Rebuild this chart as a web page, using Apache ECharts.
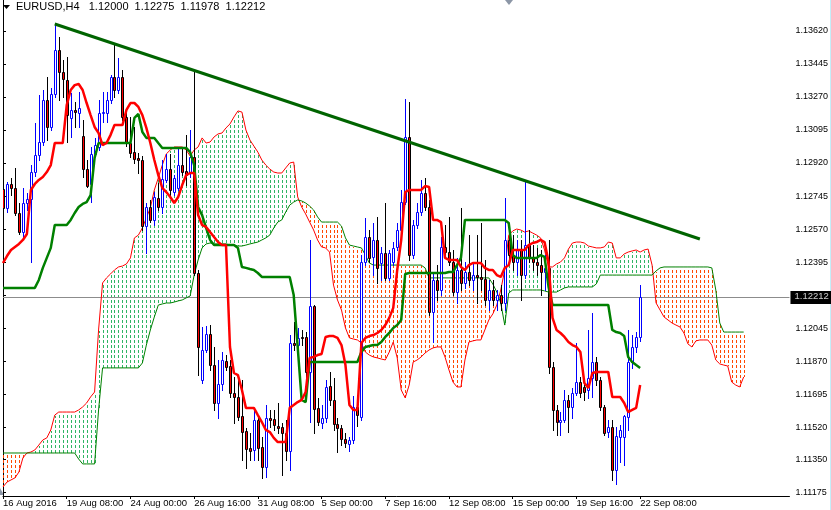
<!DOCTYPE html>
<html><head><meta charset="utf-8">
<script src="https://cdn.jsdelivr.net/npm/echarts@6/dist/echarts.min.js"></script>
<style>html,body{margin:0;padding:0;background:#fff;overflow:hidden}#c{width:831px;height:510px}</style>
</head><body><div id="c"></div>
<script>
// ---- tick labels ----
const tickBars = [0,16,32,48,64,80,96,112,128,144,160];
const tickLabels = ['16 Aug 2016','19 Aug 08:00','24 Aug 00:00','26 Aug 16:00','31 Aug 08:00','5 Sep 00:00','7 Sep 16:00','12 Sep 08:00','15 Sep 00:00','19 Sep 16:00','22 Sep 08:00'];
const priceTicks = [1.13620,1.13445,1.13270,1.13095,1.12920,1.12745,1.12570,1.12395,1.12220,1.12045,1.11870,1.11695,1.11520,1.11350,1.11175];
const priceLabels = [1.13620,1.13445,1.13270,1.13095,1.12920,1.12745,1.12570,1.12395,1.12045,1.11870,1.11695,1.11520,1.11350,1.11175];
const headerSymbol = 'EURUSD,H4';
const headerValues = ['1.12000','1.12275','1.11978','1.12212'];
const lastPrice = 1.12212;
const trendFrom = [13, 1.13657];
const trendTo = [175, 1.12517];

// ---- H4 candles ----
const open = [1.12782,1.12682,1.12809,1.12788,1.12655,1.12554,1.12708,1.12729,1.12872,1.12962,
1.13031,1.13254,1.13111,1.13286,1.13519,1.13402,1.13360,1.13159,1.13201,1.13185,
1.13063,1.12888,1.12809,1.12968,1.13005,1.13185,1.13185,1.13254,1.13376,1.13307,
1.13376,1.13164,1.13026,1.12978,1.12947,1.12936,1.12586,1.12687,1.12618,1.12735,
1.12687,1.12830,1.12888,1.12766,1.12788,1.12909,1.12878,1.12867,1.12952,1.12337,
1.11770,1.11929,1.12014,1.11849,1.11648,1.11749,1.11871,1.11844,1.11701,1.11680,
1.11579,1.11500,1.11410,1.11399,1.11558,1.11415,1.11309,1.11569,1.11563,1.11526,
1.11521,1.11489,1.11394,1.11966,1.11955,1.11998,1.11998,1.11812,1.12162,1.11622,
1.11542,1.11569,1.11738,1.11664,1.11537,1.11516,1.11457,1.11431,1.11452,1.11627,
1.11574,1.12395,1.12528,1.12422,1.12512,1.12390,1.12443,1.12311,1.12395,1.12475,
1.12565,1.12713,1.13058,1.12432,1.12591,1.12660,1.12761,1.12687,1.12130,1.12300,
1.12247,1.12475,1.12448,1.12395,1.12236,1.12353,1.12284,1.12342,1.12300,1.12326,
1.12316,1.12305,1.12194,1.12247,1.12194,1.12220,1.12178,1.12512,1.12432,1.12395,
1.12459,1.12326,1.12485,1.12417,1.12395,1.12379,1.12342,1.12364,1.11839,1.11611,
1.11547,1.11558,1.11664,1.11627,1.11701,1.11759,1.11733,1.11717,1.11781,1.11865,
1.11770,1.11627,1.11494,1.11521,1.11293,1.11468,1.11468,1.11574,1.11865,1.11945,
1.12000];
const high = [1.12872,1.12819,1.12841,1.12894,1.12708,1.12788,1.12761,1.12909,1.13132,1.13280,
1.13307,1.13376,1.13318,1.13657,1.13588,1.13466,1.13482,1.13291,1.13243,1.13296,
1.13148,1.12936,1.13005,1.13053,1.13254,1.13296,1.13296,1.13386,1.13545,1.13477,
1.13413,1.13190,1.13164,1.13111,1.12973,1.12957,1.12708,1.12724,1.12766,1.12814,
1.12936,1.12968,1.12968,1.12856,1.12994,1.13000,1.13068,1.13095,1.13402,1.12353,
1.12051,1.12056,1.12061,1.11945,1.11876,1.11918,1.11902,1.11876,1.11786,1.11770,
1.11770,1.11516,1.11489,1.11606,1.11574,1.11468,1.11637,1.11611,1.11611,1.11648,
1.11542,1.11558,1.12008,1.12077,1.12046,1.12035,1.12024,1.12512,1.12167,1.11675,
1.11637,1.11770,1.11812,1.11781,1.11569,1.11531,1.11489,1.11468,1.11685,1.11632,
1.12432,1.12629,1.12565,1.12602,1.12634,1.12475,1.12708,1.12459,1.12501,1.12602,
1.12777,1.13259,1.13243,1.12618,1.12708,1.12830,1.12841,1.12724,1.12342,1.12379,
1.12528,1.12591,1.12634,1.12459,1.12417,1.12682,1.12395,1.12538,1.12395,1.12538,
1.12602,1.12406,1.12300,1.12300,1.12247,1.12273,1.12735,1.12576,1.12538,1.12512,
1.12512,1.12819,1.12565,1.12485,1.12470,1.12459,1.12432,1.12512,1.11865,1.11637,
1.11600,1.11717,1.11690,1.11728,1.11966,1.11786,1.11781,1.12035,1.12125,1.11892,
1.11786,1.11637,1.11558,1.11558,1.11521,1.11531,1.11584,1.12035,1.12008,1.12024,
1.12275];
const low = [1.12459,1.12660,1.12750,1.12644,1.12544,1.12528,1.12671,1.12395,1.12851,1.12936,
1.13015,1.13042,1.13095,1.13270,1.13254,1.13270,1.13031,1.13058,1.13111,1.13111,
1.12846,1.12793,1.12713,1.12957,1.12989,1.13137,1.13137,1.13238,1.13270,1.13291,
1.13148,1.13010,1.12952,1.12920,1.12867,1.12565,1.12443,1.12607,1.12591,1.12671,
1.12655,1.12819,1.12750,1.12750,1.12777,1.12856,1.12803,1.12846,1.12326,1.11796,
1.11754,1.11918,1.11823,1.11611,1.11569,1.11717,1.11823,1.11680,1.11542,1.11558,
1.11346,1.11304,1.11346,1.11346,1.11346,1.11251,1.11256,1.11521,1.11505,1.11489,
1.11266,1.11346,1.11293,1.11929,1.11918,1.11955,1.11743,1.11547,1.11489,1.11531,
1.11516,1.11547,1.11637,1.11505,1.11388,1.11425,1.11415,1.11394,1.11436,1.11526,
1.11558,1.12379,1.12395,1.12326,1.12284,1.12300,1.12300,1.12300,1.12379,1.12459,
1.12554,1.12703,1.12406,1.12417,1.12576,1.12644,1.12671,1.12114,1.11971,1.12194,
1.12220,1.12432,1.12379,1.12220,1.12178,1.12247,1.12258,1.12273,1.12247,1.12178,
1.12247,1.12167,1.12141,1.12167,1.12141,1.12141,1.12141,1.12395,1.12353,1.12326,
1.12194,1.12311,1.12395,1.12353,1.12326,1.12220,1.12247,1.11807,1.11505,1.11478,
1.11478,1.11547,1.11494,1.11569,1.11690,1.11680,1.11664,1.11675,1.11680,1.11743,
1.11611,1.11478,1.11468,1.11240,1.11219,1.11335,1.11319,1.11505,1.11834,1.11918,
1.11978];
const close = [1.12682,1.12809,1.12788,1.12655,1.12554,1.12708,1.12729,1.12872,1.12962,1.13031,
1.13254,1.13111,1.13286,1.13519,1.13402,1.13365,1.13174,1.13201,1.13190,1.13212,
1.12888,1.12798,1.12968,1.13015,1.13185,1.13190,1.13254,1.13376,1.13307,1.13376,
1.13164,1.13026,1.12973,1.12941,1.12936,1.12586,1.12687,1.12618,1.12740,1.12687,
1.12835,1.12888,1.12777,1.12841,1.12909,1.12872,1.12856,1.12952,1.12337,1.11945,
1.11929,1.12014,1.11849,1.11648,1.11749,1.11876,1.11839,1.11701,1.11680,1.11574,
1.11494,1.11404,1.11394,1.11558,1.11410,1.11309,1.11569,1.11558,1.11531,1.11516,
1.11489,1.11394,1.11966,1.11955,1.11993,1.11995,1.11812,1.12162,1.11616,1.11547,
1.11569,1.11733,1.11664,1.11537,1.11516,1.11457,1.11436,1.11452,1.11627,1.11584,
1.12395,1.12528,1.12417,1.12512,1.12364,1.12443,1.12311,1.12443,1.12470,1.12565,
1.12713,1.13058,1.12432,1.12591,1.12660,1.12761,1.12687,1.12130,1.12300,1.12247,
1.12475,1.12448,1.12395,1.12236,1.12353,1.12284,1.12342,1.12300,1.12326,1.12316,
1.12305,1.12194,1.12247,1.12194,1.12220,1.12178,1.12512,1.12432,1.12395,1.12459,
1.12326,1.12485,1.12417,1.12395,1.12379,1.12342,1.12364,1.11839,1.11611,1.11547,
1.11558,1.11664,1.11627,1.11701,1.11759,1.11701,1.11706,1.11781,1.11865,1.11770,
1.11627,1.11489,1.11521,1.11293,1.11473,1.11505,1.11579,1.11865,1.11945,1.11998,
1.12212];

// ---- Ichimoku ----
const tenkan = [1.12390,1.12427,1.12459,1.12475,1.12491,1.12512,1.12544,1.12777,1.12809,1.12830,
1.12846,1.12872,1.12909,1.13026,1.13026,1.13026,1.13227,1.13307,1.13333,1.13339,
1.13307,1.13238,1.13174,1.13111,1.13079,1.13015,1.13026,1.13068,1.13121,1.13121,
1.13121,1.13201,1.13238,1.13238,1.13217,1.13174,1.13106,1.13026,1.12936,1.12856,
1.12788,1.12766,1.12740,1.12708,1.12740,1.12803,1.12856,1.12867,1.12867,1.12644,
1.12591,1.12581,1.12554,1.12528,1.12501,1.12485,1.12485,1.11945,1.11807,1.11796,
1.11717,1.11622,1.11622,1.11622,1.11584,1.11547,1.11505,1.11494,1.11463,1.11441,
1.11441,1.11441,1.11622,1.11637,1.11653,1.11664,1.11706,1.11887,1.11892,1.11902,
1.11908,1.11998,1.12003,1.12003,1.11993,1.11955,1.11849,1.11637,1.11611,1.11611,
1.11966,1.11993,1.12003,1.12008,1.12019,1.12035,1.12061,1.12099,1.12152,1.12353,
1.12512,1.12766,1.12777,1.12777,1.12777,1.12777,1.12798,1.12793,1.12618,1.12618,
1.12607,1.12417,1.12406,1.12406,1.12406,1.12369,1.12353,1.12379,1.12390,1.12390,
1.12390,1.12364,1.12353,1.12353,1.12326,1.12316,1.12364,1.12379,1.12459,1.12459,
1.12459,1.12459,1.12485,1.12496,1.12501,1.12512,1.12501,1.12395,1.12099,1.12035,
1.12019,1.11998,1.11971,1.11955,1.11945,1.11918,1.11754,1.11728,1.11807,1.11812,
1.11812,1.11812,1.11812,1.11680,1.11680,1.11680,1.11648,1.11600,1.11611,1.11622,
1.11743];
const kijun = [1.12258,1.12258,1.12258,1.12258,1.12258,1.12258,1.12258,1.12258,1.12258,1.12300,
1.12364,1.12417,1.12470,1.12591,1.12591,1.12591,1.12591,1.12618,1.12655,1.12687,
1.12703,1.12713,1.12750,1.12947,1.13026,1.13026,1.13026,1.13026,1.13026,1.13026,
1.13026,1.13026,1.13026,1.13159,1.13180,1.13084,1.13053,1.13053,1.13053,1.13026,
1.13000,1.13000,1.13000,1.13000,1.13000,1.13000,1.13000,1.12978,1.12909,1.12687,
1.12644,1.12576,1.12512,1.12485,1.12485,1.12485,1.12485,1.12485,1.12485,1.12470,
1.12369,1.12364,1.12358,1.12353,1.12337,1.12316,1.12316,1.12316,1.12316,1.12316,
1.12316,1.12316,1.12316,1.12220,1.11945,1.11664,1.11653,1.11865,1.11865,1.11865,
1.11865,1.11865,1.11865,1.11865,1.11865,1.11865,1.11865,1.11865,1.11865,1.11865,
1.11918,1.11945,1.11950,1.11955,1.11955,1.11971,1.11998,1.12019,1.12046,1.12061,
1.12088,1.12332,1.12337,1.12337,1.12337,1.12337,1.12337,1.12337,1.12337,1.12337,
1.12337,1.12337,1.12342,1.12342,1.12379,1.12417,1.12618,1.12618,1.12618,1.12618,
1.12618,1.12618,1.12618,1.12618,1.12618,1.12618,1.12618,1.12602,1.12432,1.12417,
1.12417,1.12417,1.12417,1.12417,1.12417,1.12432,1.12422,1.12263,1.12167,1.12167,
1.12167,1.12167,1.12167,1.12167,1.12167,1.12167,1.12167,1.12167,1.12167,1.12167,
1.12167,1.12167,1.12167,1.12035,1.12024,1.12019,1.12003,1.11892,1.11865,1.11849,
1.11834];
const spanA = [1.11203,1.11229,1.11240,1.11251,1.11282,1.11357,1.11383,1.11388,1.11399,1.11425,
1.11452,1.11463,1.11505,1.11584,1.11600,1.11600,1.11600,1.11600,1.11600,1.11611,
1.11627,1.11648,1.11680,1.11706,1.12035,1.12284,1.12311,1.12332,1.12353,1.12369,
1.12374,1.12385,1.12417,1.12523,1.12538,1.12576,1.12629,1.12682,1.12777,1.12841,
1.12909,1.12968,1.12989,1.13005,1.13005,1.13005,1.12989,1.12957,1.12989,1.13005,
1.13053,1.13026,1.13031,1.13058,1.13074,1.13079,1.13106,1.13127,1.13164,1.13196,
1.13190,1.13095,1.13042,1.13010,1.12978,1.12936,1.12909,1.12888,1.12872,1.12867,
1.12867,1.12894,1.12920,1.12925,1.12740,1.12687,1.12650,1.12607,1.12565,1.12512,
1.12475,1.12470,1.12448,1.12273,1.12194,1.12141,1.12046,1.11993,1.11987,1.11982,
1.11966,1.11918,1.11902,1.11892,1.11887,1.11881,1.11876,1.11918,1.11971,1.11887,
1.11717,1.11675,1.11743,1.11865,1.11876,1.11892,1.11913,1.11929,1.11940,1.11945,
1.11945,1.11892,1.11823,1.11759,1.11733,1.11733,1.11876,1.11971,1.11977,1.11982,
1.11982,1.12035,1.12088,1.12120,1.12167,1.12247,1.12353,1.12538,1.12560,1.12570,
1.12565,1.12554,1.12560,1.12549,1.12538,1.12523,1.12459,1.12369,1.12369,1.12385,
1.12395,1.12417,1.12464,1.12496,1.12501,1.12501,1.12496,1.12480,1.12475,1.12470,
1.12470,1.12475,1.12501,1.12496,1.12417,1.12417,1.12438,1.12448,1.12454,1.12459,
1.12448,1.12459,1.12464,1.12379,1.12178,1.12141,1.12104,1.12088,1.12072,1.12061,
1.12051,1.12019,1.11961,1.11945,1.11977,1.11982,1.11982,1.11982,1.11955,1.11876,
1.11855,1.11849,1.11844,1.11759,1.11743,1.11733,1.11786];
const spanB = [1.11383,1.11383,1.11383,1.11383,1.11383,1.11383,1.11383,1.11383,1.11383,1.11383,
1.11383,1.11383,1.11383,1.11383,1.11383,1.11383,1.11383,1.11383,1.11383,1.11351,
1.11325,1.11325,1.11325,1.11325,1.11611,1.11834,1.11834,1.11834,1.11834,1.11834,
1.11834,1.11834,1.11834,1.11834,1.11834,1.11860,1.11955,1.12035,1.12104,1.12167,
1.12173,1.12178,1.12178,1.12183,1.12189,1.12194,1.12205,1.12215,1.12326,1.12406,
1.12470,1.12491,1.12496,1.12491,1.12491,1.12491,1.12491,1.12485,1.12485,1.12480,
1.12480,1.12485,1.12491,1.12496,1.12501,1.12512,1.12523,1.12538,1.12576,1.12607,
1.12618,1.12660,1.12697,1.12713,1.12724,1.12719,1.12708,1.12692,1.12671,1.12634,
1.12607,1.12607,1.12607,1.12607,1.12607,1.12586,1.12523,1.12485,1.12480,1.12475,
1.12470,1.12432,1.12390,1.12379,1.12379,1.12379,1.12379,1.12379,1.12379,1.12379,
1.12379,1.12379,1.12379,1.12379,1.12379,1.12379,1.12364,1.12311,1.12311,1.12311,
1.12311,1.12311,1.12311,1.12311,1.12311,1.12311,1.12311,1.12311,1.12311,1.12311,
1.12311,1.12311,1.12311,1.12279,1.12236,1.12178,1.12061,1.12231,1.12247,1.12247,
1.12247,1.12247,1.12247,1.12247,1.12247,1.12247,1.12242,1.12236,1.12236,1.12236,
1.12247,1.12258,1.12263,1.12263,1.12263,1.12263,1.12263,1.12263,1.12263,1.12279,
1.12326,1.12326,1.12326,1.12326,1.12326,1.12326,1.12326,1.12326,1.12326,1.12326,
1.12326,1.12326,1.12326,1.12326,1.12348,1.12364,1.12369,1.12369,1.12369,1.12369,
1.12369,1.12369,1.12369,1.12369,1.12369,1.12369,1.12369,1.12369,1.12364,1.12247,
1.12072,1.12024,1.12024,1.12024,1.12024,1.12024,1.12024];

// ---- build ----
const FONT = 'Liberation Sans';
const candleData = open.map((o, i) => [i, o, close[i], low[i], high[i]]);
const cloudData = spanA.map((a, i) => [i, a, spanB[i]]);
const pairs = arr => arr.map((v, i) => [i, v]);
const GREEN_FILL = '#2fb564', ORANGE_FILL = '#ff4800';

function renderCandle(params, api) {
  const i = api.value(0), o = api.value(1), c = api.value(2), l = api.value(3), h = api.value(4);
  const po = api.coord([i, o]), pc = api.coord([i, c]), pl = api.coord([i, l]), ph = api.coord([i, h]);
  const cx = Math.round(po[0]);
  const up = c >= o;
  const top = Math.round(Math.min(po[1], pc[1])), bot = Math.round(Math.max(po[1], pc[1]));
  const edge = up ? '#0000ff' : '#000000';
  return {type: 'group', children: [
    {type: 'rect', shape: {x: cx, y: Math.round(ph[1]), width: 1, height: Math.round(pl[1]) - Math.round(ph[1]) + 1}, style: {fill: edge}},
    {type: 'rect', shape: {x: cx - 0.5, y: top + 0.5, width: 2, height: Math.max(bot - top, 1)}, style: {fill: up ? '#ffffff' : '#ff0000', stroke: edge, lineWidth: 1}}
  ]};
}
// dotted histogram between the two spans, one column per bar, dashes on a fixed 5px grid
function renderCloud(params, api) {
  const i = api.value(0), a = api.value(1), b = api.value(2);
  const pa = api.coord([i, a]), pb = api.coord([i, b]);
  const x = Math.round(pa[0]);
  const y0 = Math.round(Math.min(pa[1], pb[1])) + 1, y1 = Math.round(Math.max(pa[1], pb[1]));
  const col = a >= b ? GREEN_FILL : ORANGE_FILL;
  const kids = [];
  for (let k = Math.floor(y0 / 5); k * 5 < y1; k++) {
    const s = Math.max(k * 5, y0), e = Math.min(k * 5 + 3, y1);
    if (e > s) kids.push({type: 'rect', shape: {x: x, y: s, width: 1, height: e - s}, style: {fill: col}});
  }
  return {type: 'group', children: kids};
}
function renderPrice(params, api) {
  const p = api.coord([0, api.value(1)]);
  const cs = params.coordSys;
  const y = Math.round(p[1]);
  return {type: 'group', children: [
    {type: 'rect', shape: {x: cs.x, y: y, width: cs.width, height: 1}, style: {fill: '#8c8c8c'}},
    {type: 'rect', shape: {x: cs.x + cs.width + 1, y: y - 6, width: 41, height: 13}, style: {fill: '#000'}}
  ]};
}

const headerText = headerSymbol + '   ' + headerValues.join('  ');

const chart = echarts.init(document.getElementById('c'), null, {renderer: 'canvas'});
chart.setOption({
  animation: false,
  backgroundColor: '#ffffff',
  title: {text: headerText, left: 13, top: 0, padding: [1, 3],
    textStyle: {fontFamily: FONT, fontSize: 11, fontWeight: 'normal', color: '#000'}},
  grid: {left: 0, right: 41, top: 0, bottom: 14},
  xAxis: {
    type: 'value', min: 0, max: 197.5,
    axisLine: {show: true, lineStyle: {color: '#000', width: 1}},
    axisTick: {show: true, length: 3, customValues: tickBars, lineStyle: {color: '#000'}},
    axisLabel: {customValues: tickBars, formatter: v => tickLabels[tickBars.indexOf(v)] || '', align: 'left', margin: 2,
      fontFamily: FONT, fontSize: 9.5, color: '#000'},
    splitLine: {show: false}
  },
  yAxis: {
    type: 'value', position: 'right', min: 1.11155, max: 1.13784,
    axisLine: {show: true, lineStyle: {color: '#000', width: 1}},
    axisTick: {show: true, length: 3, customValues: priceTicks, lineStyle: {color: '#000'}},
    axisLabel: {customValues: priceLabels, formatter: v => v.toFixed(5), margin: 6, fontFamily: FONT, fontSize: 9, color: '#000'},
    splitLine: {show: false}
  },
  graphic: [
    {type: 'polygon', shape: {points: [[3, 5], [10, 5], [6.5, 9]]}, style: {fill: '#000'}},
    {type: 'polygon', shape: {points: [[505, 0], [513, 0], [509, 5]]}, style: {fill: '#8c96a6'}},
    {type: 'polygon', shape: {points: [[0, 488], [4, 495], [0, 495]]}, style: {fill: '#8c96a6'}},
    {type: 'rect', shape: {x: 830, y: 0, width: 1, height: 510}, style: {fill: '#c4eef8'}}
  ],
  series: [
    {type: 'custom', name: 'cloud', data: cloudData, renderItem: renderCloud, encode: {x: 0, y: [1, 2]}, clip: true, z: 1, silent: true},
    {type: 'custom', name: 'price', data: [[0, lastPrice]], renderItem: renderPrice, encode: {x: 0, y: 1}, clip: false, z: 2, silent: true},
    {type: 'line', name: 'spanA', data: pairs(spanA), symbol: 'none', lineStyle: {color: '#ff0000', width: 1}, z: 2, silent: true},
    {type: 'line', name: 'spanB', data: pairs(spanB), symbol: 'none', lineStyle: {color: '#008000', width: 1}, z: 2, silent: true},
    {type: 'custom', name: 'EURUSD', data: candleData, renderItem: renderCandle, encode: {x: 0, y: [1, 2, 3, 4]}, clip: true, z: 3},
    {type: 'line', name: 'kijun', data: pairs(kijun), symbol: 'none', lineStyle: {color: '#008000', width: 2.5}, z: 4, silent: true},
    {type: 'line', name: 'tenkan', data: pairs(tenkan), symbol: 'none', lineStyle: {color: '#ff0000', width: 2.5}, z: 4, silent: true},
    {type: 'line', name: 'trend', data: [trendFrom, trendTo], symbol: 'none', lineStyle: {color: '#006400', width: 3}, z: 5, silent: true},
    {type: 'scatter', name: 'priceLabel', data: [[197.5, lastPrice]], symbolSize: 0, silent: true, z: 6,
      label: {show: true, position: 'right', distance: 5, formatter: lastPrice.toFixed(5), color: '#fff',
        fontFamily: FONT, fontSize: 9.5}, clip: false}
  ]
});
</script>
</body></html>
